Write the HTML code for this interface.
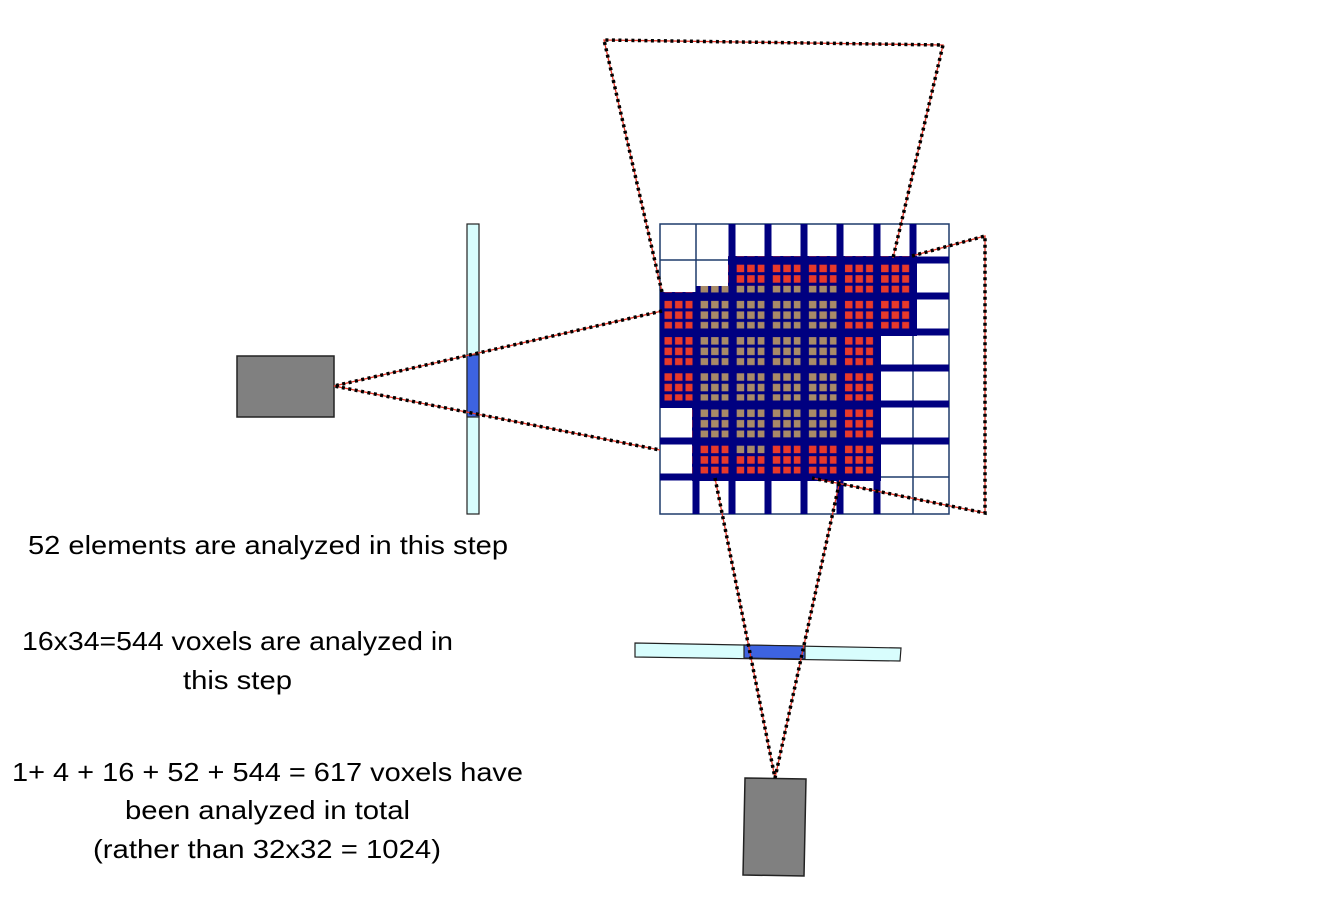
<!DOCTYPE html>
<html><head><style>
html,body{margin:0;padding:0;background:#fff;}
svg{display:block;}
text{font-family:"Liberation Sans",sans-serif;font-size:26px;fill:#000;}
</style></head><body>
<svg width="1322" height="900" viewBox="0 0 1322 900" xmlns="http://www.w3.org/2000/svg">
<defs>
<pattern id="red" patternUnits="userSpaceOnUse" x="660" y="224" width="36.1" height="36.2">
<rect x="4.5" y="4.5" width="7.5" height="7.5" fill="#e8392a"/><rect x="15" y="4.5" width="7.5" height="7.5" fill="#e8392a"/><rect x="25.5" y="4.5" width="7" height="7.5" fill="#e8392a"/>
<rect x="4.5" y="15" width="7.5" height="7.5" fill="#e8392a"/><rect x="15" y="15" width="7.5" height="7.5" fill="#e8392a"/><rect x="25.5" y="15" width="7" height="7.5" fill="#e8392a"/>
<rect x="4.5" y="25.5" width="7.5" height="7" fill="#e8392a"/><rect x="15" y="25.5" width="7.5" height="7" fill="#e8392a"/><rect x="25.5" y="25.5" width="7" height="7" fill="#e8392a"/>
</pattern>
<pattern id="tan" patternUnits="userSpaceOnUse" x="660" y="224" width="36.1" height="36.2">
<rect x="0" y="0" width="36.1" height="36.2" fill="#000080"/>
<rect x="4.5" y="4.5" width="7.5" height="7.5" fill="#a88a68"/><rect x="15" y="4.5" width="7.5" height="7.5" fill="#a88a68"/><rect x="25.5" y="4.5" width="7" height="7.5" fill="#a88a68"/>
<rect x="4.5" y="15" width="7.5" height="7.5" fill="#a88a68"/><rect x="15" y="15" width="7.5" height="7.5" fill="#a88a68"/><rect x="25.5" y="15" width="7" height="7.5" fill="#a88a68"/>
<rect x="4.5" y="25.5" width="7.5" height="7" fill="#a88a68"/><rect x="15" y="25.5" width="7.5" height="7" fill="#a88a68"/><rect x="25.5" y="25.5" width="7" height="7" fill="#a88a68"/>
</pattern>
</defs>

<rect x="660" y="224" width="289" height="290" fill="#fff" stroke="#1f3b6b" stroke-width="1.5"/>
<g stroke="#1f3b6b" stroke-width="1.5">
<line x1="696" y1="224" x2="696" y2="514"/><line x1="732" y1="224" x2="732" y2="514"/>
<line x1="768" y1="224" x2="768" y2="514"/><line x1="804" y1="224" x2="804" y2="514"/>
<line x1="840" y1="224" x2="840" y2="514"/><line x1="877" y1="224" x2="877" y2="514"/>
<line x1="913" y1="224" x2="913" y2="514"/>
<line x1="660" y1="260" x2="949" y2="260"/><line x1="660" y1="296" x2="949" y2="296"/>
<line x1="660" y1="332" x2="949" y2="332"/><line x1="660" y1="368" x2="949" y2="368"/>
<line x1="660" y1="404" x2="949" y2="404"/><line x1="660" y1="441" x2="949" y2="441"/>
<line x1="660" y1="477" x2="949" y2="477"/>
</g>

<g fill="#000080">
<rect x="728" y="256" width="189" height="44"/>
<rect x="660" y="292" width="257" height="44"/>
<rect x="660" y="328" width="221" height="80"/>
<rect x="692" y="400" width="189" height="81"/>
</g>
<g fill="url(#red)">
<rect x="728" y="256" width="189" height="44"/>
<rect x="660" y="292" width="257" height="44"/>
<rect x="660" y="328" width="221" height="80"/>
<rect x="692" y="400" width="189" height="81"/>
</g>
<rect x="696" y="286" width="144" height="155" fill="url(#tan)"/>
<rect x="732" y="441" width="36" height="12" fill="url(#tan)"/>

<g stroke="#000080" stroke-width="7">
<line x1="732" y1="224" x2="732" y2="514"/><line x1="768" y1="224" x2="768" y2="514"/>
<line x1="804" y1="224" x2="804" y2="514"/><line x1="840" y1="224" x2="840" y2="514"/>
<line x1="877" y1="224" x2="877" y2="514"/><line x1="913" y1="224" x2="913" y2="334"/>
<line x1="696" y1="404" x2="696" y2="514"/>
<line x1="732" y1="260" x2="949" y2="260"/>
<line x1="660" y1="296" x2="949" y2="296"/><line x1="660" y1="332" x2="949" y2="332"/>
<line x1="877" y1="368" x2="949" y2="368"/><line x1="660" y1="404" x2="949" y2="404"/>
<line x1="660" y1="441" x2="949" y2="441"/><line x1="660" y1="477" x2="880" y2="477"/>
</g>

<rect x="237" y="356" width="97" height="61" fill="#808080" stroke="#222" stroke-width="1.5"/>
<rect x="467" y="224" width="12" height="290" fill="#d8fdfd" stroke="#222" stroke-width="1.2"/>
<rect x="467" y="355" width="12" height="62" fill="#3d63e0" stroke="#222" stroke-width="1.2"/>

<polygon points="635,643 901,648 900,661 635,657" fill="#d8fdfd" stroke="#222" stroke-width="1.2"/>
<polygon points="744,645 805,646 805,659 744,658" fill="#3d63e0" stroke="#222" stroke-width="1.2"/>
<polygon points="745,778 806,779 804,876 743,875" fill="#808080" stroke="#222" stroke-width="1.5"/>

<g fill="none" stroke-linecap="butt">
<g stroke="#e8392a" stroke-width="1.3">
<polyline points="662,311 334,386 660,450"/>
<polyline points="662,292 604,40 943,45 893,258"/>
<polyline points="912,256 985,236 985,513 812,478"/>
<polyline points="715,478 775,778 840,480"/>
</g>
<g stroke="#000" stroke-width="3.5" stroke-dasharray="3,3.5">
<polyline points="662,311 334,386 660,450"/>
<polyline points="662,292 604,40 943,45 893,258"/>
<polyline points="912,256 985,236 985,513 812,478"/>
<polyline points="715,478 775,778 840,480"/>
</g>
</g>

<text x="28" y="554" textLength="480" lengthAdjust="spacingAndGlyphs">52 elements are analyzed in this step</text>
<text x="22" y="650" textLength="431" lengthAdjust="spacingAndGlyphs">16x34=544 voxels are analyzed in</text>
<text x="183" y="689" textLength="109" lengthAdjust="spacingAndGlyphs">this step</text>
<text x="12" y="781" textLength="511" lengthAdjust="spacingAndGlyphs">1+ 4 + 16 + 52 + 544 =  617 voxels  have</text>
<text x="125" y="819" textLength="285" lengthAdjust="spacingAndGlyphs">been analyzed in total</text>
<text x="93" y="858" textLength="348" lengthAdjust="spacingAndGlyphs">(rather than 32x32 = 1024)</text>
</svg>
</body></html>
